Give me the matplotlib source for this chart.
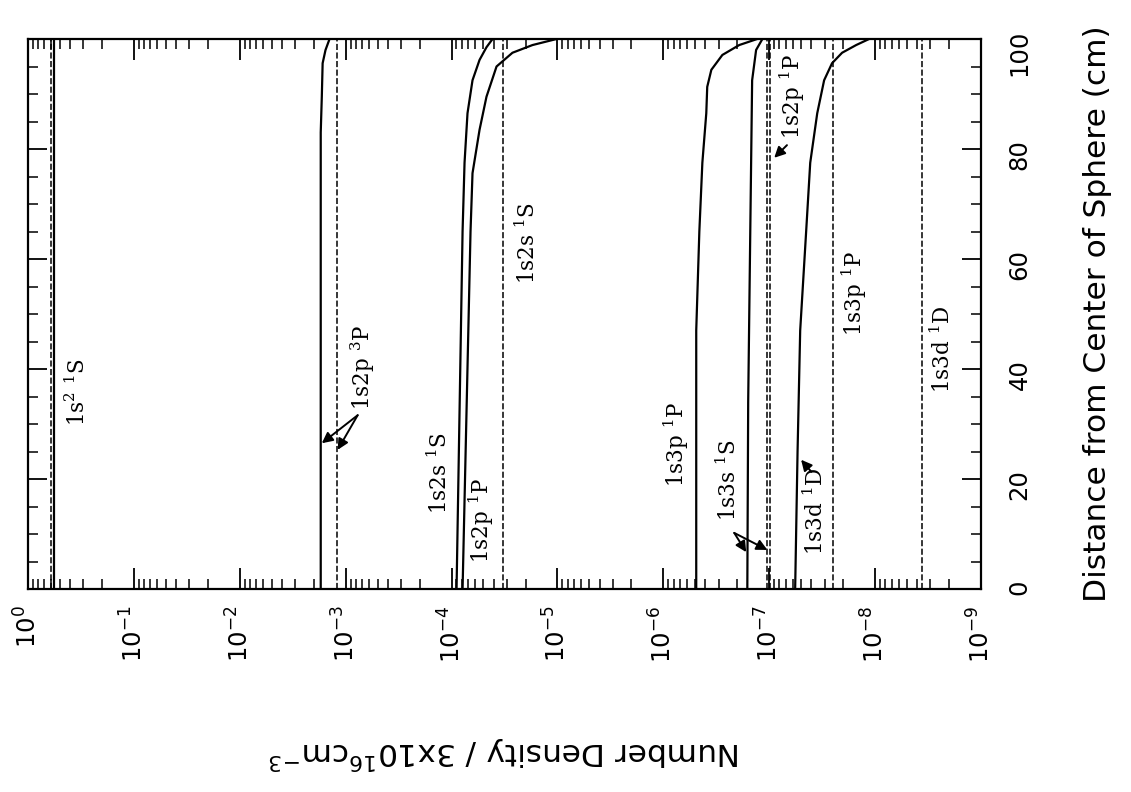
import numpy as np
import matplotlib.pyplot as plt
from matplotlib.ticker import LogLocator, MultipleLocator, NullFormatter, FuncFormatter

# distance from centre (cm) and number densities
dist_flat = [0, 100]

d_1s2 = [0, 100]
n_1s2 = [0.569, 0.569]

d_2p3P = [0, 83, 89.5, 95.6, 98, 100]
n_2p3P = [1.72e-3, 1.72e-3, 1.68e-3, 1.65e-3, 1.55e-3, 1.42e-3]

d_2s1S = [0, 65, 77.5, 86.5, 92.5, 96.2, 98.5, 100]
n_2s1S = [8.97e-5, 7.87e-5, 7.54e-5, 7.07e-5, 6.34e-5, 5.44e-5, 4.68e-5, 4.10e-5]

d_2p1P = [0, 65, 75.6, 83.5, 89.5, 95, 97.5, 98.9, 100]
n_2p1P = [7.87e-5, 6.62e-5, 6.34e-5, 5.44e-5, 4.68e-5, 3.76e-5, 2.66e-5, 1.72e-5, 1.02e-5]

d_3p1P = [0, 47, 65, 77.5, 86.5, 91.3, 94.4, 97.1, 98.9, 100]
n_3p1P = [4.89e-7, 4.89e-7, 4.57e-7, 4.28e-7, 3.93e-7, 3.85e-7, 3.52e-7, 2.77e-7, 1.92e-7, 1.30e-7]

d_3s1S = [0, 34, 65, 92.5, 98, 100]
n_3s1S = [1.61e-7, 1.58e-7, 1.51e-7, 1.45e-7, 1.33e-7, 1.16e-7]

d_3d1D = [0, 25, 47, 65, 77.5, 86.5, 92.5, 95.6, 97.5, 98.9, 100]
n_3d1D = [5.69e-8, 5.40e-8, 5.10e-8, 4.48e-8, 4.10e-8, 3.52e-8, 3.03e-8, 2.55e-8, 2.05e-8, 1.51e-8, 1.14e-8]

solid_curves = [
    (n_1s2, d_1s2), (n_2p3P, d_2p3P), (n_2s1S, d_2s1S), (n_2p1P, d_2p1P),
    (n_3p1P, d_3p1P), (n_3s1S, d_3s1S), (n_3d1D, d_3d1D),
]

# dashed (constant) densities
dashed_levels = [0.607, 1.22e-3, 3.30e-5, 9.8e-8, 1.05e-7, 2.49e-8, 3.62e-9]

# state labels: text, density, distance
label_text = [
    "1s$^2$ $^1$S", "1s2p $^3$P", "1s2s $^1$S", "1s2p $^1$P", "1s2s $^1$S",
    "1s3p $^1$P", "1s3s $^1$S", "1s3d $^1$D", "1s2p $^1$P", "1s3p $^1$P", "1s3d $^1$D",
]
label_n = [0.337, 6.9e-4, 1.30e-4, 5.2e-5, 1.92e-5, 7.5e-7, 2.4e-7, 3.6e-8, 6.1e-8, 1.58e-8, 2.3e-9]
label_d = [35.8, 40.2, 21.0, 12.4, 62.9, 26.2, 19.8, 14.2, 89.6, 53.8, 43.6]

# arrows: (tail density, tail distance, head density, head distance)
arrows = [
    (7.7e-4, 31.6, 1.68e-3, 26.5),
    (7.7e-4, 31.6, 1.19e-3, 25.3),
    (2.14e-7, 10.2, 1.65e-7, 6.7),
    (2.14e-7, 10.2, 1.04e-7, 7.1),
    (4.0e-8, 21.3, 5.0e-8, 23.5),
    (6.8e-8, 80.7, 8.97e-8, 78.4),
]

fig = plt.figure(figsize=(11.31, 7.92), dpi=100)
ax = fig.add_axes([28 / 1131, 203 / 792, 953 / 1131, 550 / 792])

for n, d in solid_curves:
    ax.plot(n, d, color="black", lw=1.6)
for v in dashed_levels:
    ax.plot([v, v], dist_flat, color="black", lw=1.1, dashes=(4, 1.6))

for txt, n, d in zip(label_text, label_n, label_d):
    ax.text(n, d, txt, rotation=90, ha="center", va="center", fontsize=15.5,
            family="DejaVu Serif", math_fontfamily="dejavuserif")

for n0, d0, n1, d1 in arrows:
    ax.annotate("", xy=(n1, d1), xytext=(n0, d0),
                arrowprops=dict(arrowstyle="-|>", color="black", lw=1.4,
                                mutation_scale=16, shrinkA=0, shrinkB=0))

ax.set_xscale("log")
ax.set_xlim(1, 1e-9)
ax.set_ylim(0, 100)

ax.xaxis.set_major_locator(LogLocator(base=10, numticks=20))
ax.xaxis.set_minor_locator(LogLocator(base=10, subs=np.arange(2, 10), numticks=200))
ax.xaxis.set_minor_formatter(NullFormatter())
ax.xaxis.set_major_formatter(FuncFormatter(lambda v, p: f"$10^{{{int(round(np.log10(v)))}}}$"))
ax.yaxis.set_major_locator(MultipleLocator(20))
ax.yaxis.set_minor_locator(MultipleLocator(5))

ax.tick_params(axis="x", which="both", direction="in", top=True, bottom=True,
               labelrotation=90, labelsize=17.5, pad=12)
ax.tick_params(axis="x", which="major", length=15, width=1.3)
ax.tick_params(axis="x", which="minor", length=7, width=1.1)
ax.tick_params(axis="y", which="both", direction="in", left=True, right=True,
               labelleft=False, labelright=True, labelrotation=90, labelsize=17.5, pad=19)
ax.tick_params(axis="y", which="major", length=14, width=1.3)
ax.tick_params(axis="y", which="minor", length=7, width=1.1)
for s in ax.spines.values():
    s.set_linewidth(1.6)

ax.set_xlabel("Number Density / 3x10$^{16}$cm$^{-3}$", fontsize=22.5, rotation=180, va="center")
ax.xaxis.set_label_coords(0.5, -(752 - 589) / 550)
ax.yaxis.set_label_position("right")
ax.set_ylabel("Distance from Center of Sphere (cm)", fontsize=22.5, rotation=90, va="center")
ax.yaxis.set_label_coords(1 + (1098 - 981) / 953, 0.5)

fig.savefig("out.png", dpi=100)
